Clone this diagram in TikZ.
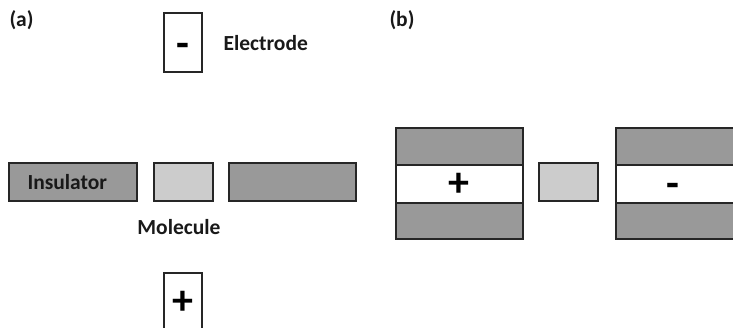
\documentclass[tikz,border=0pt]{standalone}
\usepackage{fontspec}
\setmainfont{Carlito}
\begin{document}
\begin{tikzpicture}[x=1pt,y=-1pt,
  box/.style={draw=black!85,line width=1.3pt},
  ins/.style={box,fill=black!40},
  mol/.style={box,fill=black!20},
  elec/.style={box,fill=white},
  lbl/.style={font=\fontsize{21.5}{24}\selectfont\bfseries,text=black!90},
  sign/.style={font=\fontsize{42}{42}\selectfont\bfseries,text=black}]
\useasboundingbox (0,0) rectangle (733,328);
% (a)
\node[lbl,anchor=west] (la) at (6,20) {(a)};
\draw[elec] (164,13) rectangle (202,72);
\node[sign] (mtop) at (183,50) {-};
\node[lbl,anchor=west] (electrode) at (220,43) {Electrode};
\draw[ins] (9,163) rectangle (137,201);
\node[lbl,anchor=west] (insulator) at (24,182) {Insulator};
\draw[mol] (154,163) rectangle (213,201);
\draw[ins] (229,163) rectangle (356,201);
\node[lbl] (molecule) at (179,227) {Molecule};
\draw[elec] (164,273) rectangle (202,334);
\node[sign] (pbot) at (183,303) {+};
% (b)
\node[lbl,anchor=west] (lb) at (386,20) {(b)};
\draw[ins] (396,128) rectangle (523,165);
\draw[elec] (396,165) rectangle (523,203);
\draw[ins] (396,203) rectangle (523,239);
\node[sign] (pleft) at (459,185) {+};
\draw[mol] (539,163) rectangle (598,201);
\draw[ins] (616,128) rectangle (743,165);
\draw[elec] (616,165) rectangle (743,203);
\draw[ins] (616,203) rectangle (743,239);
\node[sign] (mright) at (673,190) {-};
\end{tikzpicture}
\end{document}
